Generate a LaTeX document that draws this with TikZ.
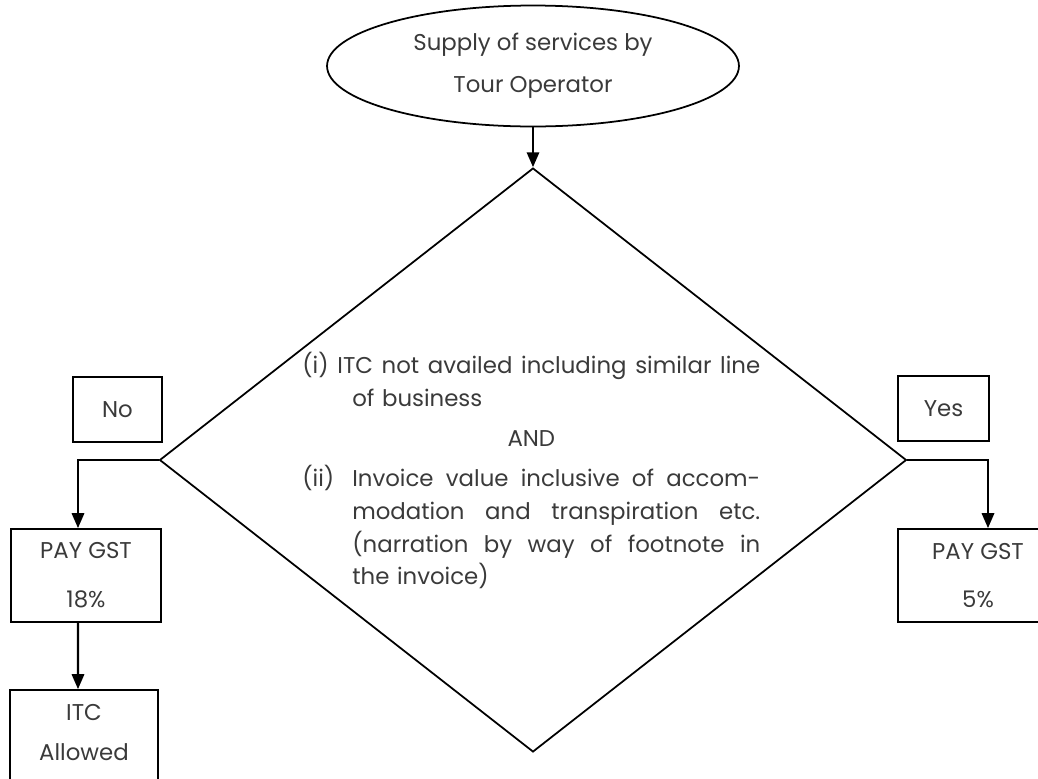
\documentclass[tikz,border=0pt]{standalone}
\usepackage{fontspec}
\setmainfont{Poppins}
\usetikzlibrary{shapes.geometric,arrows.meta}
\definecolor{inkgray}{HTML}{3A3A3A}
\tikzset{
    txt/.style={
        text=inkgray, font=\fontsize{13}{22}\selectfont
    },
    box/.style={
        txt, draw, rectangle, line width=1pt, align=center, inner sep=0pt
    },
    flow/.style={
        line width=1.3pt, -{Triangle[width=7pt,length=8.5pt]}
    }
}
% one justified line of the given width
\newcommand{\jline}[2]{\makebox[#1][s]{\spaceskip=.3333em plus 1em\relax #2}}

\begin{document}
\begin{tikzpicture}[x=0.02cm,y=-0.02cm, line join=miter]

\clip (0,0) rectangle (1038,778);

\def\full{9.16cm}
\def\hang{1cm}
\def\rest{8.16cm}

% start and decision
\node[txt, draw, ellipse, line width=1pt, align=center, inner sep=0pt,
      minimum width=8.24cm, minimum height=2.42cm,
      font=\fontsize{13}{23.8}\selectfont] (start) at (533,66)
      {Supply of services by\\Tour Operator};
\node[draw, diamond, line width=1pt, inner sep=0pt,
      minimum width=14.94cm, minimum height=11.68cm] (cond) at (533,460) {};

\node[txt, anchor=north west, inner sep=0pt, text width=\full, align=left,
      font=\fontsize{13}{18.7}\selectfont] (condtext) at (302,352) {%
  \jline{\full}{(i) ITC not availed including similar line}\\
  \hspace*{\hang}of business\\[4pt]
  \makebox[\full][c]{AND}\\[4pt]
  \makebox[\hang][l]{(ii)}\jline{\rest}{Invoice value inclusive of accom-}\\
  \hspace*{\hang}\jline{\rest}{modation and transpiration etc.}\\
  \hspace*{\hang}\jline{\rest}{(narration by way of footnote in}\\
  \hspace*{\hang}the invoice)};

% answers
\node[box, minimum width=1.78cm, minimum height=1.3cm] (no) at (117.5,409.5) {No};
\node[box, minimum width=1.82cm, minimum height=1.3cm] (yes) at (943.5,408.5) {Yes};

% outcomes
\node[box, minimum width=3cm, minimum height=1.86cm,
      font=\fontsize{13}{27.8}\selectfont] (pay18) at (86,575.5) {PAY GST\\18\%};
\node[box, minimum width=3.2cm, minimum height=1.86cm,
      font=\fontsize{13}{27.8}\selectfont] (pay5) at (978,575.5) {PAY GST\\5\%};
\node[box, minimum width=2.96cm, minimum height=2.48cm,
      font=\fontsize{13}{22.7}\selectfont] (itc) at (84,752) {ITC\\Allowed\\\mbox{}};

\draw[flow] (start) -- (cond.north);
\draw[flow] (cond.west) -| ([xshift=-0.16cm]pay18.north);
\draw[flow] (cond.east) -| ([xshift=0.2cm]pay5.north);
\draw[flow] ([xshift=-0.16cm]pay18.south) -- ([xshift=-0.12cm]itc.north);

\end{tikzpicture}
\end{document}
